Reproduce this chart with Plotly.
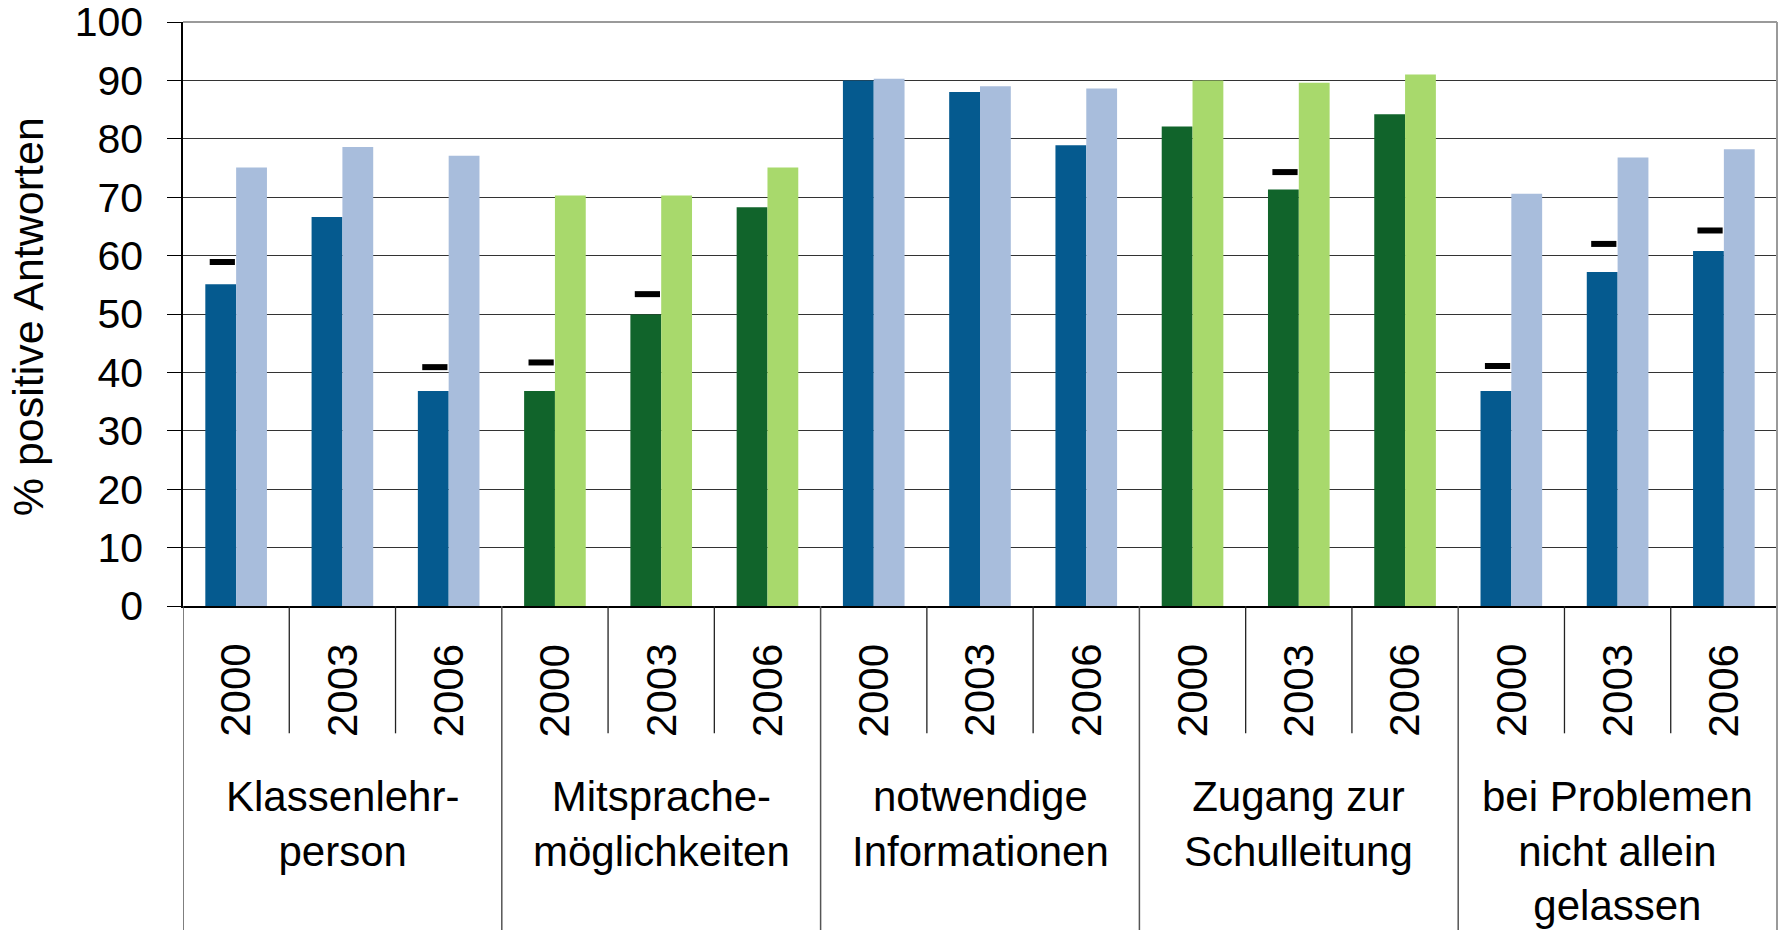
import plotly.graph_objects as go

# categories and values
groups = ['Klassenlehr-<br>person', 'Mitsprache-<br>möglichkeiten', 'notwendige<br>Informationen',
          'Zugang zur<br>Schulleitung', 'bei Problemen<br>nicht allein<br>gelassen']
years = ['2000', '2003', '2006']

dark_values = [55.1, 66.6, 36.8, 36.8, 49.9, 68.3, 90.0, 88.0, 78.9, 82.1, 71.3, 84.2, 36.8, 57.2, 60.8]
light_values = [75.1, 78.6, 77.1, 70.3, 70.3, 75.1, 90.3, 89.0, 88.6, 90.0, 89.6, 91.0, 70.6, 76.8, 78.2]
# small black dash markers above some of the dark bars
dash_values = [58.9, None, 40.9, 41.7, 53.4, None, None, None, None, None, 74.3, None, 41.1, 62.0, 64.3]

group_colors_dark = ['#055A8F', '#11642B', '#055A8F', '#11642B', '#055A8F']
group_colors_light = ['#A8BDDC', '#A8D96C', '#A8BDDC', '#A8D96C', '#A8BDDC']

FONT = 'Liberation Sans, Arial, sans-serif'

n = len(groups) * len(years)
xpos = list(range(n))
dark_cols = [group_colors_dark[i // 3] for i in xpos]
light_cols = [group_colors_light[i // 3] for i in xpos]

fig = go.Figure()

fig.add_trace(go.Bar(x=xpos, y=dark_values, width=0.29, offset=-0.29,
                     marker=dict(color=dark_cols, line_width=0), showlegend=False))
fig.add_trace(go.Bar(x=xpos, y=light_values, width=0.29, offset=0,
                     marker=dict(color=light_cols, line_width=0), showlegend=False))

# dash markers
fig.add_trace(go.Scatter(
    x=[i - 0.13 for i in xpos], y=dash_values, mode='markers',
    marker=dict(symbol='line-ew', size=18, color='black', line=dict(color='black', width=6)),
    showlegend=False, hoverinfo='skip'))

# separators below the axis
shapes = []
for b in range(n + 1):
    if b % 3 == 0:
        shapes.append(dict(type='line', xref='x', yref='paper', x0=b - 0.5, x1=b - 0.5,
                           y0=0, y1=-0.56, line=dict(color='#555555', width=1.5)))
    else:
        shapes.append(dict(type='line', xref='x', yref='paper', x0=b - 0.5, x1=b - 0.5,
                           y0=0, y1=-0.218, line=dict(color='#222222', width=1.3)))
# gray frame at top and right
shapes.append(dict(type='line', xref='paper', yref='paper', x0=0, x1=1, y0=1, y1=1,
                   line=dict(color='#9A9A9A', width=2)))
shapes.append(dict(type='line', xref='paper', yref='paper', x0=1, x1=1, y0=1, y1=-0.56,
                   line=dict(color='#9A9A9A', width=2)))

annotations = []
for i in xpos:
    annotations.append(dict(x=i, y=-0.145, xref='x', yref='paper', text=years[i % 3],
                            textangle=-90, showarrow=False, xanchor='center', yanchor='middle',
                            font=dict(family=FONT, size=42, color='black')))
for g, name in enumerate(groups):
    annotations.append(dict(x=g * 3 + 1, y=-0.283, xref='x', yref='paper', text=name,
                            showarrow=False, xanchor='center', yanchor='top',
                            font=dict(family=FONT, size=42, color='black')))
annotations.append(dict(x=-0.097, y=0.495, xref='paper', yref='paper', text='% positive Antworten',
                        textangle=-90, showarrow=False, xanchor='center', yanchor='middle',
                        font=dict(family=FONT, size=43, color='black')))

fig.update_layout(
    width=1784, height=930,
    margin=dict(l=183, r=7, t=22, b=324),
    paper_bgcolor='white', plot_bgcolor='white',
    barmode='overlay',
    font=dict(family=FONT, size=40, color='black'),
    shapes=shapes,
    annotations=annotations,
    xaxis=dict(range=[-0.5, n - 0.5], showticklabels=False, showgrid=False, zeroline=False,
               showline=True, linecolor='black', linewidth=1.5, ticks='', automargin=False),
    yaxis=dict(range=[0, 100], dtick=10, showgrid=True, gridcolor='#333333', gridwidth=1,
               zeroline=False, showline=True, linecolor='black', linewidth=1.5,
               ticks='outside', ticklen=14, tickcolor='black', tickwidth=1.2,
               ticklabelstandoff=16, automargin=False, ticklabeloverflow='allow',
               tickfont=dict(family=FONT, size=41, color='black')),
)

# the page body has a default 8px margin; drop it so the figure fills the window
fig.write_html('out.html', config={'displayModeBar': False},
               post_script="document.body.style.margin='0';")
